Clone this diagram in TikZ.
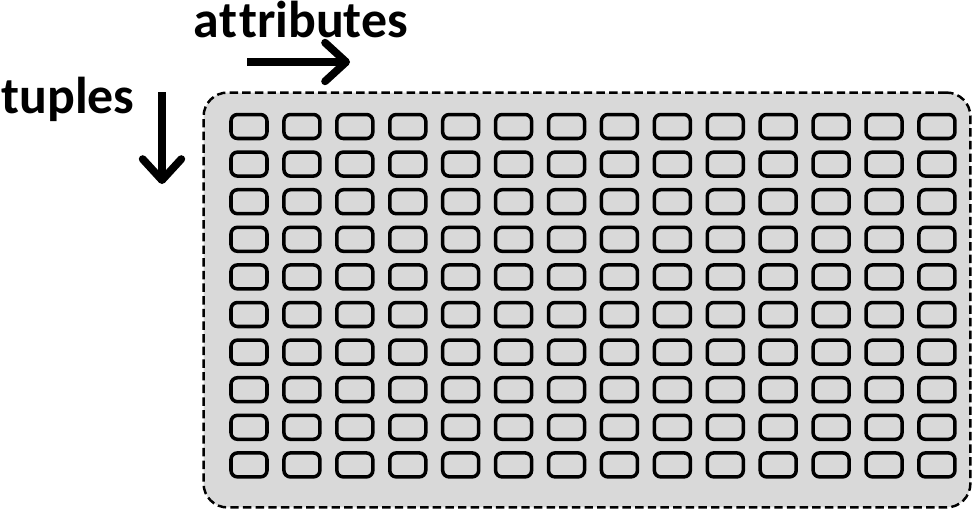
\documentclass[tikz,border=0pt]{standalone}
\usepackage{fontspec}
\setmainfont{Carlito}[Ligatures={NoCommon,NoContextual},RawFeature={-liga;-clig;-calt;-dlig}]
\usetikzlibrary{arrows.meta}
\definecolor{TableGray}{HTML}{D9D9D9}

\begin{document}
\begin{tikzpicture}[
  x=0.02cm, y=-0.02cm,
  tablebox/.style={draw,fill=TableGray,line width=1.4pt,dash pattern=on 4.8pt off 2.4pt,
    rounded corners=0.48cm,minimum width=15.34cm,minimum height=8.30cm,inner sep=0pt},
  cell/.style={draw,line width=2pt,rounded corners=3.7pt,
    minimum width=0.72cm,minimum height=0.48cm,inner sep=0pt},
  lbl/.style={font=\fontsize{29.5}{35}\selectfont\bfseries,inner sep=0pt,anchor=base},
  arrow/.style={-{Straight Barb[length=12pt,width=22pt,round]},line width=4.4pt}
]
  \useasboundingbox (0,0) rectangle (974,511);

  \node[tablebox] (table) at (587,300) {};

  % one cell per attribute and tuple
  \foreach \r in {0,...,9}
    \foreach \c in {0,...,13}
      \node[cell] (c-\r-\c) at (249+52.92*\c,126.5+37.6*\r) {};

  \node[lbl] (attr) at (301,37) {at\kern1.2pt tributes};
  \node[lbl] (tup) at (68,113) {tuples};

  \coordinate (attr-from) at (247,62);
  \coordinate (attr-to) at (350,62);
  \coordinate (tup-from) at (162,92);
  \coordinate (tup-to) at (162,184);

  \draw[arrow] (attr-from) -- (attr-to);
  \draw[arrow] (tup-from) -- (tup-to);
\end{tikzpicture}
\end{document}
